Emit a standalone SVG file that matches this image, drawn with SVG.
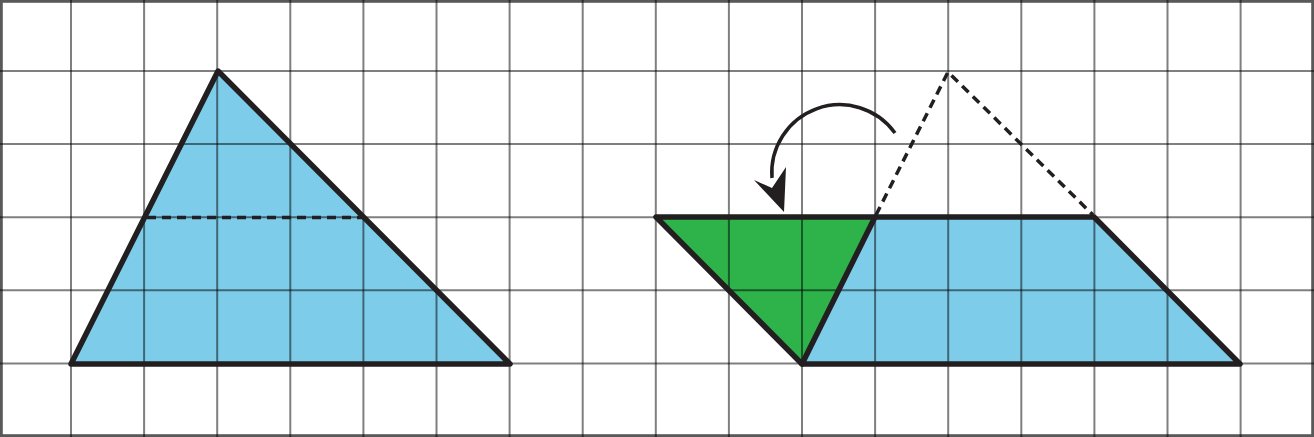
<svg xmlns="http://www.w3.org/2000/svg" width="1314" height="437" viewBox="0 0 1314 437">
<style>
.blue{fill:#7dcdea}
.green{fill:#2db34a}
.grid{stroke:#000;stroke-opacity:0.5;stroke-width:2;fill:none}
.edge{stroke:#231f20;stroke-width:5.5;fill:none;stroke-linejoin:round;stroke-linecap:round}
.dash{stroke:#231f20;stroke-width:3.5;fill:none;stroke-dasharray:9 6}
</style>
<rect x="0" y="0" width="1314" height="437" fill="#fff"/>
<g id="fills">
<polygon class="blue" points="71,364 218,71 510,364"/>
<polygon class="blue" points="875,217 1094,217 1240,364 802,364"/>
<polygon class="green" points="656,217 875,217 802,364"/>
</g>
<g id="grid" class="grid">
<path d="M71,0V437M144.1,0V437M217.2,0V437M290.3,0V437M363.4,0V437M436.5,0V437M509.6,0V437M582.7,0V437M655.8,0V437M728.9,0V437M802,0V437M875.1,0V437M948.2,0V437M1021.3,0V437M1094.4,0V437M1167.5,0V437M1240.6,0V437"/>
<path d="M0,71H1314M0,144.1H1314M0,217.2H1314M0,290.3H1314M0,363.4H1314"/>
<rect x="1.4" y="1.4" width="1311.2" height="434.2" stroke-width="2.8" stroke-opacity="0.65"/>
</g>
<g id="left-triangle">
<polygon class="edge" points="71,364 218,71 510,364"/>
<line class="dash" x1="147" y1="217.5" x2="362" y2="217.5"/>
</g>
<g id="right-shape">
<polygon class="edge" points="656,217 1094,217 1240,364 802,364"/>
<line class="edge" x1="875" y1="217" x2="802" y2="364"/>
<polyline class="dash" points="876,215 948,72 1093,215"/>
</g>
<g id="connectors">
<path d="M895,133 A68,68 0 0 0 772,178" fill="none" stroke="#231f20" stroke-width="3.5"/>
<polygon points="784,212 754,180 772,188 786,167" fill="#231f20"/>
</g>
</svg>
